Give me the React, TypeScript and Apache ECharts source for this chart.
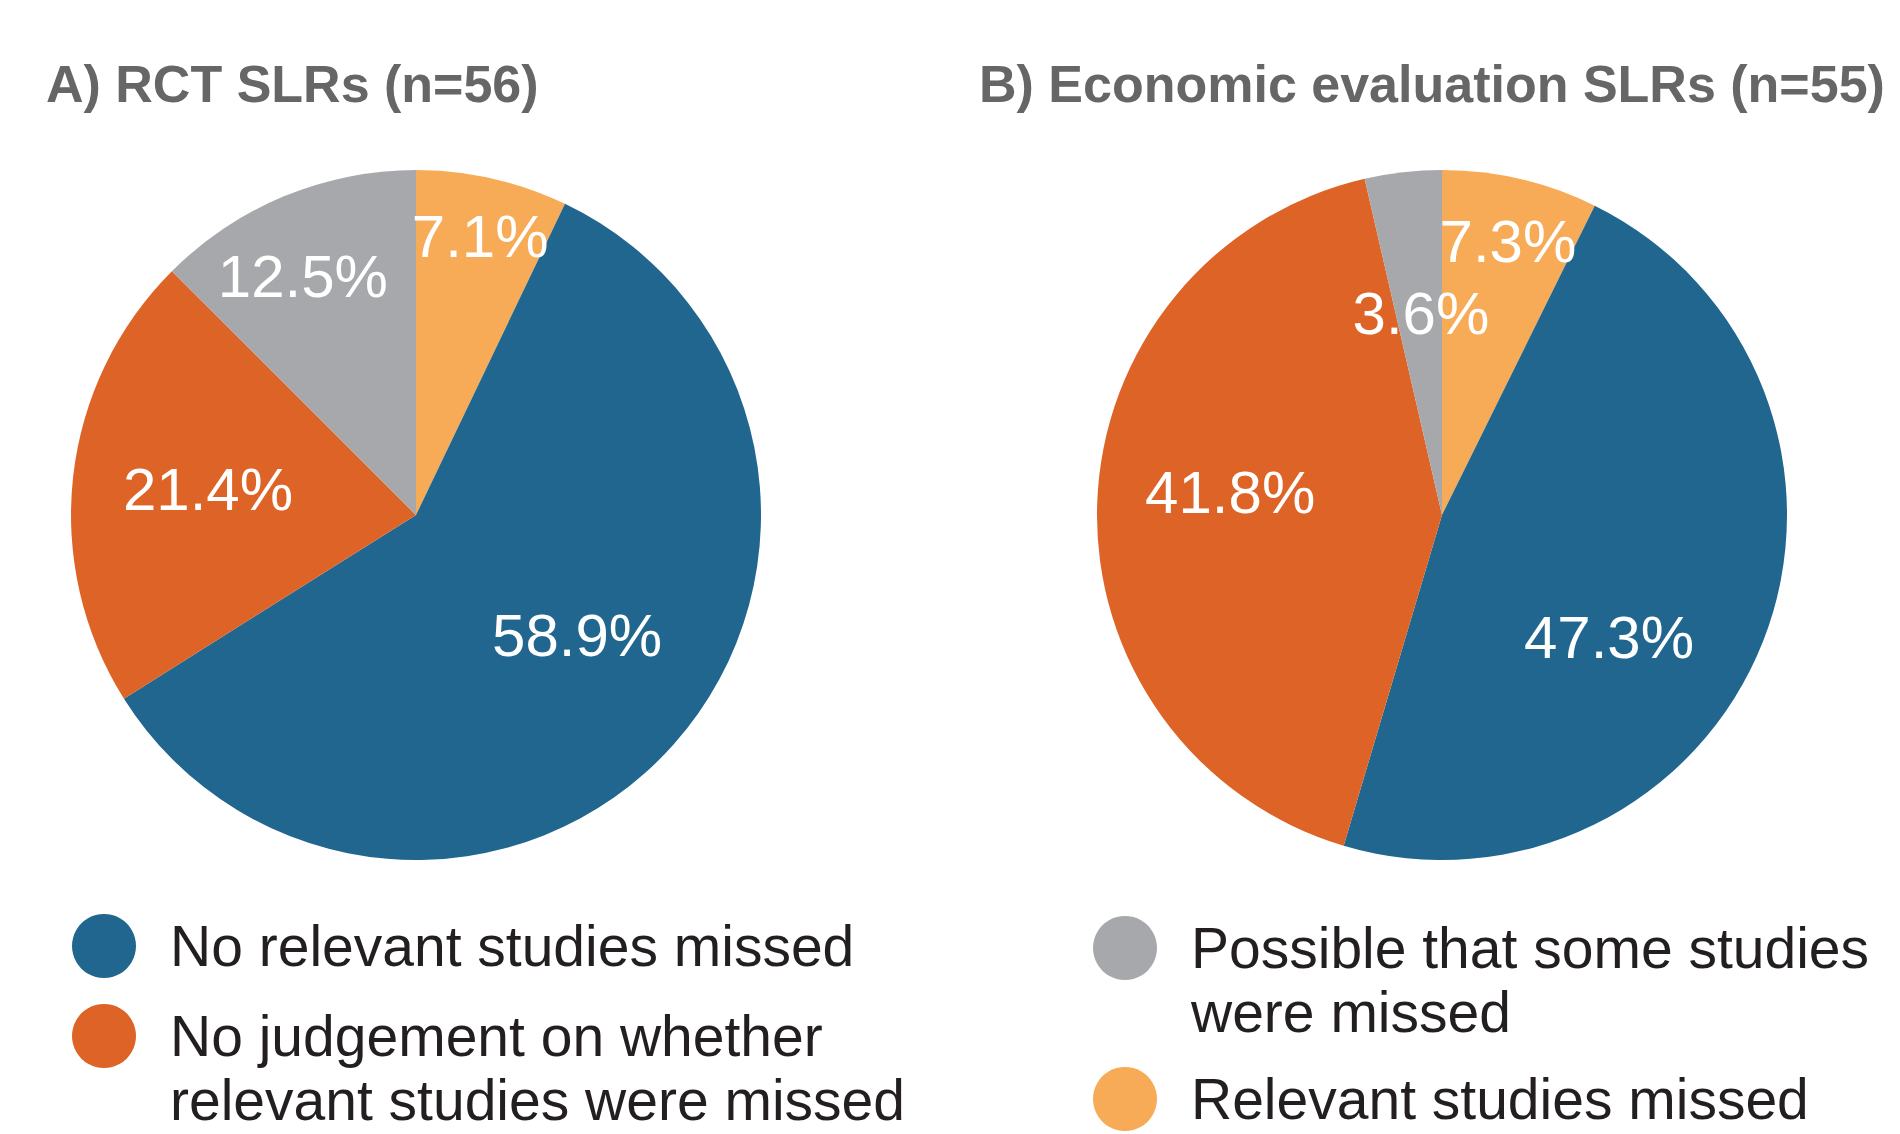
import { useEffect, useRef } from 'react';
import * as echarts from 'echarts';

// ---- data ----
const categories = [
  'Relevant studies missed',
  'No relevant studies missed',
  'No judgement on whether relevant studies were missed',
  'Possible that some studies were missed',
];
const rctValues = [7.1, 58.9, 21.4, 12.5];
const econValues = [7.3, 47.3, 41.8, 3.6];
const titles = ['A) RCT SLRs (n=56)', 'B) Economic evaluation SLRs (n=55)'];
// wrapped legend text (leading empty line keeps the marker level with the first line)
const legendLines: Record<string, string> = {
  'No relevant studies missed': 'No relevant studies missed',
  'No judgement on whether relevant studies were missed': '\nNo judgement on whether\nrelevant studies were missed',
  'Possible that some studies were missed': '\nPossible that some studies\nwere missed',
  'Relevant studies missed': 'Relevant studies missed',
};

// ---- styles / layout ----
const COLORS = ['#F7AB57', '#20668F', '#DD6426', '#A7A8AB'];
const R = 345;
const CENTERS = [
  [416, 515],
  [1442, 515],
];
// label anchor positions as fractions of radius from the pie centre
const rctLabelPos = [
  [0.186, -0.806],
  [0.467, 0.348],
  [-0.603, -0.073],
  [-0.328, -0.69],
];
const econLabelPos = [
  [0.191, -0.794],
  [0.484, 0.354],
  [-0.614, -0.064],
  [-0.061, -0.583],
];
const FONT = "'Liberation Sans', Arial, sans-serif";

function makeSeries(values: number[], center: number[], pos: number[][]) {
  return {
    type: 'pie',
    center: center,
    radius: R,
    startAngle: 90,
    clockwise: true,
    silent: true,
    emphasis: { disabled: true },
    label: {
      show: true,
      position: 'inside',
      color: '#ffffff',
      fontFamily: FONT,
      fontSize: 60,
      fontWeight: 'normal',
      formatter: (p: any) => Number(p.value).toFixed(1) + '%',
    },
    labelLine: { show: false },
    labelLayout: (p: any) => ({
      x: center[0] + pos[p.dataIndex][0] * R,
      y: center[1] + pos[p.dataIndex][1] * R,
    }),
    itemStyle: { borderWidth: 0 },
    data: values.map((v, i) => ({
      name: categories[i],
      value: v,
      itemStyle: { color: COLORS[i] },
    })),
  };
}

const legendCommon = {
  orient: 'vertical',
  icon: 'circle',
  itemWidth: 64,
  itemHeight: 64,
  padding: 0,
  selectedMode: false,
  formatter: (n: string) => legendLines[n] ?? n,
  textStyle: {
    fontFamily: FONT,
    fontSize: 57,
    lineHeight: 64,
    color: '#231F20',
    padding: [0, 0, 0, 29],
  },
};

const titleStyle = { fontFamily: FONT, fontSize: 52, fontWeight: 'bold', color: '#666666' };

export default function App() {
  const ref = useRef<HTMLDivElement>(null);
  useEffect(() => {
    document.body.style.margin = '0';
    if (!ref.current) return;
    const chart = echarts.init(ref.current, undefined, { renderer: 'svg' });
    chart.setOption({
      animation: false,
      backgroundColor: '#ffffff',
      title: [
        { text: titles[0], left: 46, top: 58, padding: 0, textStyle: titleStyle },
        { text: titles[1], left: 979, top: 58, padding: 0, textStyle: titleStyle },
      ],
      legend: [
        { ...legendCommon, data: [{ name: categories[1] }], left: 72, top: 914 },
        { ...legendCommon, data: [{ name: categories[2] }], left: 72, top: 940 },
        { ...legendCommon, data: [{ name: categories[3] }], left: 1093, top: 852 },
        { ...legendCommon, data: [{ name: categories[0] }], left: 1093, top: 1067 },
      ],
      series: [
        makeSeries(rctValues, CENTERS[0], rctLabelPos),
        makeSeries(econValues, CENTERS[1], econLabelPos),
      ],
    });
    return () => chart.dispose();
  }, []);
  return <div ref={ref} style={{ width: 1900, height: 1134 }} />;
}
